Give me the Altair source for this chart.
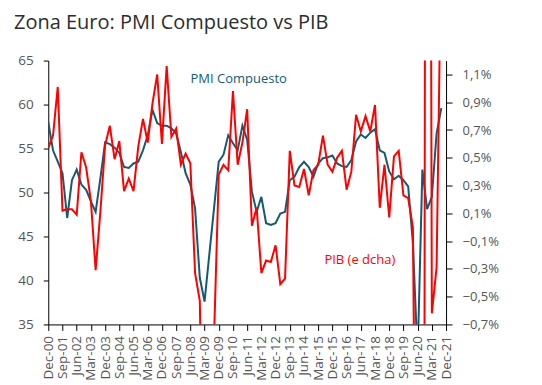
import altair as alt
import pandas as pd

TEAL = "#145b70"
RED = "#ff0000"
FONT = "Open Sans"

# Quarter labels Dec-00 ... Dec-21
months = ["Mar", "Jun", "Sep", "Dec"]
quarters = ["Dec-00"] + [f"{m}-{y:02d}" for y in range(1, 22) for m in months]
tick_labels = quarters[::3]

# PMI Compuesto (left axis), quarterly, Dec-00 .. Sep-21
pmi = [58.0, 54.8, 53.5, 52.2, 47.1, 51.4, 52.6, 50.9, 50.3, 49.0,
       47.8, 51.6, 55.7, 55.5, 55.1, 54.5, 52.9, 52.8, 53.3, 53.5,
       54.8, 56.5, 59.4, 57.9, 57.6, 57.6, 57.3, 56.7, 54.6, 52.2,
       50.9, 48.2, 40.3, 37.6, 42.9, 48.2, 53.5, 54.3, 56.5, 55.6,
       54.8, 57.6, 56.0, 50.1, 47.8, 49.5, 46.5, 46.3, 46.5, 47.6,
       47.8, 51.4, 51.8, 52.9, 53.5, 52.9, 51.8, 53.3, 53.9, 54.0,
       54.2, 53.3, 53.0, 52.9, 53.7, 55.8, 56.6, 56.2, 56.8, 57.2,
       54.8, 54.5, 52.4, 51.5, 51.9, 51.4, 50.7, 44.2, 31.3, 52.6,
       48.1, 49.5, 56.7, 59.6]

# PIB t/t % (right axis)
pib = [0.57, 0.66, 1.01, 0.12, 0.13, 0.13, 0.09, 0.54, 0.43, 0.19,
       -0.31, 0.11, 0.59, 0.73, 0.49, 0.62, 0.26, 0.35, 0.26, 0.58,
       0.78, 0.61, 0.89, 1.10, 0.60, 1.16, 0.65, 0.71, 0.45, 0.53,
       0.46, -0.33, -0.53, -2.5, -1.8, -0.8, 0.38, 0.45, 0.41, 0.98,
       0.45, 0.61, 0.85, 0.01, 0.14, -0.33, -0.24, -0.25, -0.13, -0.41,
       -0.37, 0.55, 0.30, 0.29, 0.42, 0.23, 0.41, 0.45, 0.66, 0.45,
       0.40, 0.50, 0.55, 0.27, 0.40, 0.81, 0.69, 0.80, 0.69, 0.88,
       0.14, 0.45, 0.07, 0.51, 0.55, 0.23, 0.21, 0.00, -3.7, -11.7,
       12.5, -0.62, -0.29, 2.1]

left_ticks = [35, 40, 45, 50, 55, 60, 65]
right_ticks = [-0.7, -0.5, -0.3, -0.1, 0.1, 0.3, 0.5, 0.7, 0.9, 1.1]

df = pd.DataFrame({"quarter": quarters[:len(pmi)], "pmi": pmi, "pib": pib})

x_enc = alt.X(
    "quarter:N",
    scale=alt.Scale(type="point", domain=quarters, padding=0),
    axis=alt.Axis(values=tick_labels, labelAngle=-90, title=None,
                  labelFont=FONT, labelFontSize=13.5, labelColor="#555555",
                  tickSize=6, labelPadding=5, domainColor="black",
                  tickColor="black", grid=False),
)

y_left = alt.Y(
    "pmi:Q",
    scale=alt.Scale(domain=[35, 65], nice=False, zero=False),
    axis=alt.Axis(values=left_ticks, title=None, orient="left",
                  labelFont=FONT, labelFontSize=13.5, labelColor="#555555",
                  tickSize=5, labelPadding=10, domainColor="black",
                  tickColor="black", grid=False),
)

y_right = alt.Y(
    "pib:Q",
    scale=alt.Scale(domain=[-0.7, 1.2], nice=False, zero=False),
    axis=alt.Axis(values=right_ticks, title=None, orient="right",
                  labelExpr="replace(format(datum.value, '.1f'), '.', ',') + '%'",
                  labelFont=FONT, labelFontSize=13, labelColor="#555555",
                  tickSize=6, labelPadding=10, domainColor="black",
                  tickColor="black", grid=False),
)

base = alt.Chart(df)

teal_line = base.mark_line(color=TEAL, strokeWidth=2, clip=True).encode(x=x_enc, y=y_left)
teal_text = alt.Chart(pd.DataFrame({"quarter": ["Dec-10"], "pmi": [62.9], "label": ["PMI Compuesto"]})).mark_text(
    font=FONT, fontSize=13, color=TEAL, align="center", baseline="middle", dx=1
).encode(x=x_enc, y=y_left, text="label:N")

red_line = base.mark_line(color=RED, strokeWidth=2, clip=True).encode(x=x_enc, y=y_right)
red_text = alt.Chart(pd.DataFrame({"quarter": ["Jun-17"], "pib": [-0.236], "label": ["PIB (e dcha)"]})).mark_text(
    font=FONT, fontSize=13, color=RED, align="center", baseline="middle", dx=-1
).encode(x=x_enc, y=y_right, text="label:N")

left = alt.layer(teal_line, teal_text)
right = alt.layer(red_line, red_text)

chart = alt.layer(left, right).resolve_scale(y="independent").properties(
    width=398,
    height=264,
    autosize=alt.AutoSizeParams(type="none"),
    padding={"left": 40.3, "top": 52.5, "right": 88, "bottom": 70},
    title=alt.TitleParams(
        text="Zona Euro: PMI Compuesto vs PIB",
        anchor="start", frame="group", font=FONT, fontSize=20,
        fontWeight="normal", color="#2d2d2d", dx=-34.3, offset=4.5,
        baseline="alphabetic",
    ),
).configure_view(stroke=None)

chart.save("out.html", embed_options={"renderer": "svg", "actions": False})
